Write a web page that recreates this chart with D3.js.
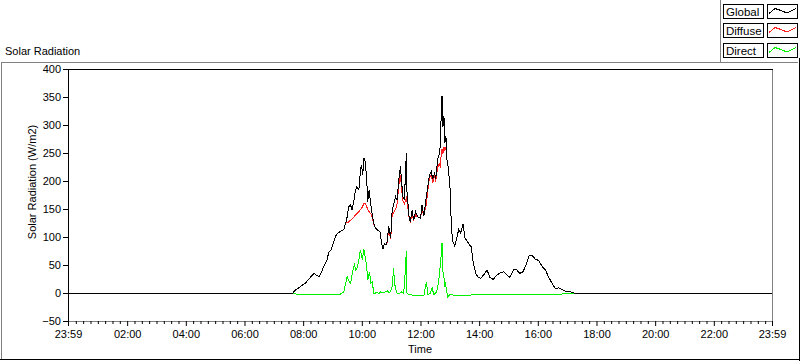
<!DOCTYPE html>
<html><head><meta charset="utf-8">
<script src="https://cdn.jsdelivr.net/npm/d3@7"></script>
<style>
html,body{margin:0;padding:0;background:#fff;}
svg{display:block;font-family:"Liberation Sans",Arial,sans-serif;font-size:11px;}
</style></head><body>
<svg id="c" width="800" height="361"></svg>
<script>
// ---------- DATA ----------
const seriesNames = ["Global", "Diffuse", "Direct"];
const seriesColors = ["#000000", "#ff2020", "#00f000"];
const xTickLabels = ["23:59","02:00","04:00","06:00","08:00","10:00","12:00","14:00","16:00","18:00","20:00","22:00","23:59"];
const xTickTimes  = ["-00:01","02:00","04:00","06:00","08:00","10:00","12:00","14:00","16:00","18:00","20:00","22:00","23:59"];
const yTicks = [-50, 0, 50, 100, 150, 200, 250, 300, 350, 400];

const globalTimes = [
 "00:00","07:30","07:37","07:43","07:53","08:04","08:14","08:21","08:26","08:31",
 "08:36","08:41","08:48","08:51","08:56","09:02","09:05","09:10","09:15","09:22",
 "09:26","09:29","09:32","09:36","09:39","09:43","09:46","09:49","09:53","09:56",
 "09:58","10:01","10:03","10:06","10:09","10:11","10:14","10:17","10:20","10:24",
 "10:27","10:30","10:36","10:39","10:42","10:45","10:50","10:54","10:58","11:01",
 "11:04","11:08","11:11","11:15","11:18","11:20","11:23","11:26","11:30","11:31",
 "11:33","11:36","11:38","11:42","11:45","11:49","11:53","11:59","12:02","12:06",
 "12:11","12:14","12:17","12:21","12:24","12:28","12:30","12:34","12:37","12:40",
 "12:41","12:43","12:45","12:47","12:49","12:51","12:53","12:56","12:58","13:00",
 "13:02","13:05","13:09","13:14","13:17","13:21","13:26","13:30","13:35","13:39",
 "13:43","13:47","13:52","13:56","14:02","14:08","14:15","14:21","14:28","14:35",
 "14:43","14:49","14:56","15:02","15:09","15:15","15:22","15:29","15:36","15:41",
 "15:45","15:50","15:54","16:01","16:08","16:15","16:19","16:25","16:30","16:35",
 "16:42","16:49","16:56","17:06","17:13","17:18","23:59"];
const globalValues = [
 0,0,0,6,12,19,29,36,33,30,
 37,48,60,73,78,93,102,108,111,114,
 126,137,155,158,149,167,185,191,185,218,
 230,212,242,236,203,164,185,161,143,123,
 117,114,111,93,79,89,87,120,99,149,
 158,173,167,206,228,203,173,167,250,185,
 164,134,128,149,131,146,137,134,158,139,
 173,191,210,218,204,216,204,239,248,266,
 310,352,298,316,269,281,239,224,203,182,
 120,93,85,102,114,108,124,99,93,87,
 83,54,36,30,27,33,42,29,25,33,
 37,39,33,29,42,43,36,39,54,67,
 69,66,61,59,48,42,33,23,15,9,
 10,7,4,3,1,0,0];
const diffuseValues = [
 0,0,0,6,12,19,29,36,33,30,
 37,48,60,73,78,93,102,108,111,114,
 126,126,128,131,133,137,140,143,146,150,
 152,156,161,160,155,150,146,143,137,123,
 117,114,111,93,79,89,87,115,97,140,
 145,150,160,195,212,190,165,160,170,165,
 155,132,128,140,131,140,137,134,150,139,
 160,185,205,212,198,212,200,225,232,225,
 245,258,250,262,255,262,240,224,203,182,
 120,93,85,102,114,108,124,99,93,87,
 83,54,36,30,27,33,42,29,25,33,
 37,39,33,29,42,43,36,39,54,67,
 69,66,61,59,48,42,33,23,15,9,
 10,7,4,3,1,0,0];

const directTimes = [
 "00:00","07:37","07:45","09:15","09:22","09:29","09:32","09:36","09:39","09:44",
 "09:46","09:49","09:53","09:56","10:00","10:03","10:05","10:09","10:11","10:15",
 "10:17","10:20","10:24","10:30","10:34","10:37","10:44","10:51","10:56","11:01",
 "11:04","11:06","11:10","11:15","11:20","11:24","11:26","11:30","11:31","11:35",
 "11:45","12:06","12:11","12:14","12:19","12:23","12:26","12:32","12:36","12:40",
 "12:43","12:44","12:47","12:48","12:50","12:52","12:55","13:00","13:11","13:21",
 "13:31","13:41","13:55","15:30","15:34","16:35","16:59","17:06","23:59"];
const directValues = [
 0,0,-1,-1,3,30,24,18,33,54,
 42,45,60,78,60,79,69,48,24,39,
 18,21,-1,3,-1,3,1,5,1,12,
 45,18,1,-1,3,0,12,76,1,-2,
 -3,-3,21,-2,0,10,-2,3,21,54,
 90,42,30,12,21,6,-6,-1,-4,-3,
 -4,-3,-1,-1,-2,-2,0,0,0];

// ---------- RENDER ----------
const parseT = s => { const neg = s[0] === "-"; const [h, m] = s.replace("-", "").split(":").map(Number); const v = h * 60 + m; return neg ? -v : v; };
const svg = d3.select("#c");
const x = d3.scaleLinear().domain([-1, 1439]).range([68, 772]);
const y = d3.scaleLinear().domain([-50, 400]).range([321, 69]);

// outer frame
svg.append("line").attr("x1", 1).attr("x2", 798).attr("y1", 62.5).attr("y2", 62.5).attr("stroke", "#808080");
svg.append("line").attr("x1", 1.5).attr("x2", 1.5).attr("y1", 62).attr("y2", 360).attr("stroke", "#808080");
svg.append("line").attr("x1", 799.5).attr("x2", 799.5).attr("y1", 58).attr("y2", 361).attr("stroke", "#000");
svg.append("line").attr("x1", 0).attr("x2", 800).attr("y1", 359.5).attr("y2", 359.5).attr("stroke", "#000");

// title
svg.append("text").attr("x", 5).attr("y", 55).text("Solar Radiation");

// legend
svg.append("line").attr("x1", 720.5).attr("x2", 720.5).attr("y1", 0).attr("y2", 62).attr("stroke", "#808080");
const rowTops = [4, 23, 43];
seriesNames.forEach((name, i) => {
  const t = rowTops[i];
  svg.append("rect").attr("x", 723.5).attr("y", t + 0.5).attr("width", 40).attr("height", 14)
    .attr("fill", "#fff").attr("stroke", "#000");
  svg.append("text").attr("x", 726).attr("y", t + 11.5).attr("font-size", 11.5).text(name);
  svg.append("rect").attr("x", 767.5).attr("y", t + 0.5).attr("width", 30).attr("height", 14)
    .attr("fill", "#fff").attr("stroke", "#000");
  svg.append("polyline")
    .attr("points", [[769, t + 9.5], [775, t + 4.5], [781, t + 6.5], [787, t + 9], [796, t + 4.5]].map(p => p.join(",")).join(" "))
    .attr("fill", "none").attr("stroke", seriesColors[i]).attr("shape-rendering", "crispEdges");
});

// clip
svg.append("clipPath").attr("id", "clip").append("rect").attr("x", 69).attr("y", 70).attr("width", 703).attr("height", 251);

// data
const line = d3.line().x(d => x(d[0]) + 0.5).y(d => y(d[1]) + 0.5);
const dataG = svg.append("g").attr("clip-path", "url(#clip)");
const mk = (ts, vs) => ts.map((t, i) => [parseT(t), vs[i]]);
[[directTimes, directValues, 2], [globalTimes, diffuseValues, 1], [globalTimes, globalValues, 0]].forEach(([ts, vs, ci]) => {
  dataG.append("path").datum(mk(ts, vs)).attr("d", line)
    .attr("fill", "none").attr("stroke", seriesColors[ci]).attr("stroke-width", 1)
    .attr("shape-rendering", "crispEdges");
});

// plot frame
svg.append("line").attr("x1", 68).attr("x2", 773).attr("y1", 69.5).attr("y2", 69.5).attr("stroke", "#000");
svg.append("line").attr("x1", 68.5).attr("x2", 68.5).attr("y1", 69).attr("y2", 322).attr("stroke", "#000");
svg.append("line").attr("x1", 772.5).attr("x2", 772.5).attr("y1", 70).attr("y2", 322).attr("stroke", "#808080");
svg.append("line").attr("x1", 69).attr("x2", 773).attr("y1", 321.5).attr("y2", 321.5).attr("stroke", "#808080");

// axes
const xMajor = xTickTimes.map(parseT);
const xMinor = d3.range(15, 1439, 15).filter(v => v % 120 !== 0);
const gxMinor = svg.append("g").attr("transform", "translate(0,321)")
  .call(d3.axisBottom(x).tickValues(xMinor).tickSize(3).tickFormat(""));
const gx = svg.append("g").attr("transform", "translate(0,321)")
  .call(d3.axisBottom(x).tickValues(xMajor).tickSize(5).tickPadding(4).tickFormat((d, i) => xTickLabels[i]));
const gy = svg.append("g").attr("transform", "translate(68,0)")
  .call(d3.axisLeft(y).tickValues(yTicks).tickSize(5).tickPadding(2));
[gx, gxMinor, gy].forEach(g => {
  g.select(".domain").remove();
  g.selectAll("text").attr("font-family", "'Liberation Sans',Arial,sans-serif").attr("font-size", 11).attr("fill", "#000");
  g.selectAll("line").attr("stroke", "#000");
});

// axis titles
svg.append("text").attr("transform", "translate(35.5,182) rotate(-90)").attr("text-anchor", "middle")
  .text("Solar Radiation (W/m2)");
svg.append("text").attr("x", 420).attr("y", 353).attr("text-anchor", "middle").text("Time");
</script>
</body></html>
